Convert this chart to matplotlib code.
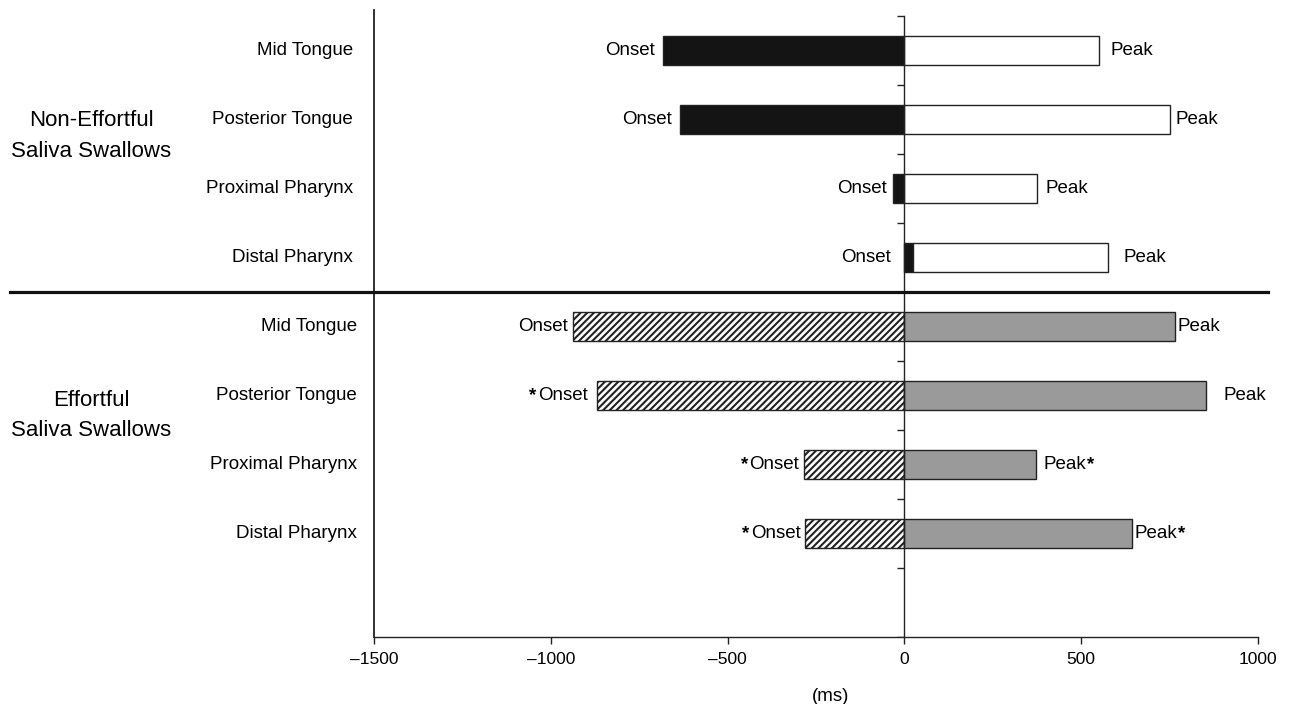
import matplotlib
matplotlib.use("Agg")
import matplotlib.pyplot as plt
import matplotlib.transforms as mtransforms
from matplotlib.markers import TICKLEFT
import numpy as np

plt.rcParams['font.family'] = ['Liberation Sans', 'DejaVu Sans']
plt.rcParams['hatch.linewidth'] = 1.5

# ---- data ----
regions = ["Mid Tongue", "Posterior Tongue", "Proximal Pharynx", "Distal Pharynx"]
groups = ["Non-Effortful\nSaliva Swallows", "Effortful\nSaliva Swallows"]
ne_onset = [-682, -634, -31, 25]
ne_peak = [549, 752, 376, 577]
ef_onset = [-936, -868, -283, -280]
ef_peak = [764, 854, 373, 645]
ef_onset_star = [False, True, True, True]
ef_peak_star = [False, False, True, True]
xticks = [-1500, -1000, -500, 0, 500, 1000]

# label gaps (pixels) - layout only
ne_onset_gap = [8, 8, 7, 14]
ne_peak_gap = [12, 5, 8, 15]
ef_onset_gap = [6, 10, 5, 5]
ef_peak_gap = [3, 17, 7, 2]

W, H = 1293, 704
fig = plt.figure(figsize=(W / 100, H / 100), dpi=100)
ax = fig.add_axes([374 / W, (H - 637) / H, (1258 - 374) / W, (637 - 10) / H])

n_slots = 9
ax.set_xlim(-1500, 1000)
ax.set_ylim(n_slots, -6 / 69)

bar_h = 0.41
px2pt = 72 / 100

def draw_group(offset, onsets, peaks, onset_style, peak_style, ogaps, pgaps, ostar, pstar):
    for i, (o, p) in enumerate(zip(onsets, peaks)):
        y = offset + i + 0.5
        ax.barh(y, o, height=bar_h, left=0, **onset_style)
        left = max(o, 0)
        ax.barh(y, p - left, height=bar_h, left=left, **peak_style)
        t = ax.annotate("Onset", xy=(min(o, 0), y), xytext=(-ogaps[i] * px2pt, 0),
                        textcoords='offset points', ha='right', va='center', fontsize=13.5)
        if ostar[i]:
            ax.annotate("*", xy=(0, 0.5), xycoords=t, xytext=(-1, 0), textcoords='offset points',
                        ha='right', va='center', fontsize=13.5, fontweight='bold')
        tp = ax.annotate("Peak", xy=(p, y), xytext=(pgaps[i] * px2pt, 0),
                         textcoords='offset points', ha='left', va='center', fontsize=13.5)
        if pstar[i]:
            ax.annotate("*", xy=(1, 0.5), xycoords=tp, xytext=(0.5, 0), textcoords='offset points',
                        ha='left', va='center', fontsize=13.5, fontweight='bold')

edge = dict(edgecolor='#222222', linewidth=1.0)
draw_group(0, ne_onset, ne_peak,
           dict(color='#141414', **edge), dict(facecolor='white', **edge),
           ne_onset_gap, ne_peak_gap, [False] * 4, [False] * 4)
draw_group(4, ef_onset, ef_peak,
           dict(facecolor='white', hatch='/////', **edge), dict(facecolor='#9a9a9a', **edge),
           ef_onset_gap, ef_peak_gap, ef_onset_star, ef_peak_star)

# centre line with left ticks at slot boundaries
bounds = np.arange(n_slots + 1)
ax.plot([0, 0], [0, n_slots], color='#222222', linewidth=1.0, zorder=3)
ax.plot(np.zeros(len(bounds)), bounds, linestyle='none', marker=TICKLEFT,
        markersize=5, markeredgewidth=1.0, color='#222222', zorder=3)

# divider line across the figure
trans = mtransforms.blended_transform_factory(fig.transFigure, ax.transData)
ax.plot([10 / W, 1268 / W], [4, 4], transform=trans, color='#111111',
        linewidth=2.3, clip_on=False, zorder=4)

# category labels and group labels
for gi, g in enumerate(groups):
    xr = 353 / W if gi == 0 else 357 / W
    for i, r in enumerate(regions):
        ax.text(xr, gi * 4 + i + 0.5, r, transform=trans, ha='right', va='center', fontsize=13.5)
    ax.text(91 / W, gi * 4 + 1.74 + gi * 0.05, g, transform=trans, ha='center', va='center',
            fontsize=16, linespacing=1.62)

# axes styling
for s in ['top', 'right']:
    ax.spines[s].set_visible(False)
ax.spines['left'].set_linewidth(1.3)
ax.spines['left'].set_color('#222222')
ax.spines['bottom'].set_linewidth(1.0)
ax.spines['bottom'].set_color('#222222')
ax.set_yticks([])
ax.set_xticks(xticks)
ax.set_xticklabels([f"{v:d}".replace('-', '\u2013') for v in xticks])
ax.tick_params(axis='x', direction='out', length=5, width=1.0, pad=6, labelsize=12.5,
               color='#222222')
ax.set_xlabel("(ms)", fontsize=13.5, labelpad=10)
ax.xaxis.set_label_coords((831 - 374) / (1258 - 374), -0.082)

fig.savefig("out.png", dpi=100)
